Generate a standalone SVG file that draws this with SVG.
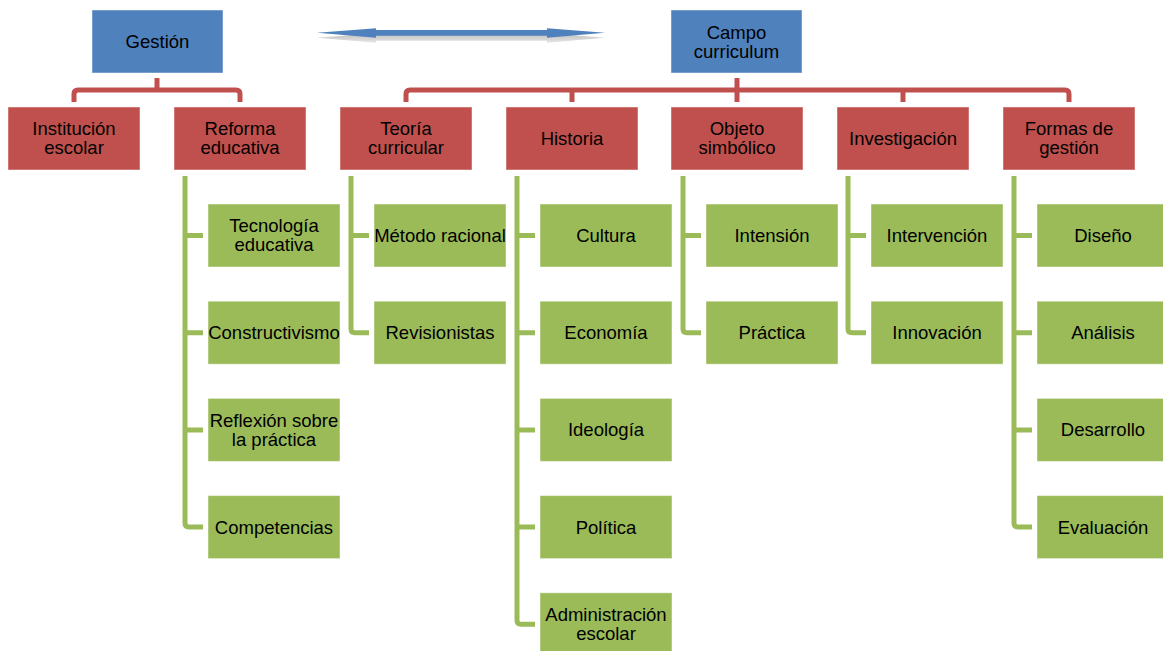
<svg xmlns="http://www.w3.org/2000/svg" width="1163" height="651" viewBox="0 0 1163 651">
<style>
text{font-family:"Liberation Sans",Arial,sans-serif;font-size:18.5px;fill:#000;text-anchor:middle}
.b{fill:#4F81BD;stroke:#fff;stroke-opacity:.45;stroke-width:1}
.r{fill:#C0504D;stroke:#fff;stroke-opacity:.45;stroke-width:1}
.g{fill:#9BBB59;stroke:#fff;stroke-opacity:.45;stroke-width:1}
.rl{fill:none;stroke:#C0504D;stroke-width:5}
.gl{fill:none;stroke:#9BBB59;stroke-width:5}
</style>
<defs>
<linearGradient id="sh" x1="0" y1="0" x2="0" y2="1">
<stop offset="0" stop-color="#bdbdbd"/>
<stop offset="1" stop-color="#e6e6e6"/>
</linearGradient>
</defs>
<rect width="1163" height="651" fill="#fff"/>
<g id="arrow">
<polygon transform="translate(0,5)" fill="url(#sh)" points="317,32.7 376,28.3 376,30 547,30 547,28.3 605,32.7 547,37.7 547,35.7 376,35.7 376,37.7"/>
<polygon fill="#4F81BD" points="317,32.7 376,28.3 376,30 547,30 547,28.3 605,32.7 547,37.7 547,35.7 376,35.7 376,37.7"/>
</g>
<g id="connectors">
<path class="rl" d="M157 78V90M74 102V94Q74 90 78 90H236Q240 90 240 94V102"/>
<path class="rl" d="M737 78V102M406 102V94Q406 90 410 90H1065Q1069 90 1069 94V102M572 90V102M903 90V102"/>
<path class="gl" d="M185 176V523Q185 527 189 527H203M185 235.5H203M185 332.7H203M185 429.9H203"/>
<path class="gl" d="M351 176V328.7Q351 332.7 355 332.7H369M351 235.5H369"/>
<path class="gl" d="M517 176V620.3Q517 624.3 521 624.3H535M517 235.5H535M517 332.7H535M517 429.9H535M517 527.1H535"/>
<path class="gl" d="M683 176V328.7Q683 332.7 687 332.7H701M683 235.5H701"/>
<path class="gl" d="M848 176V328.7Q848 332.7 852 332.7H866M848 235.5H866"/>
<path class="gl" d="M1014 176V523Q1014 527 1018 527H1032M1014 235.5H1032M1014 332.7H1032M1014 429.9H1032"/>
</g>
<g id="gestion"><rect class="b" x="92" y="10" width="131" height="63"/><text x="157.5" y="48">Gestión</text></g>
<g id="campo"><rect class="b" x="671" y="10" width="131" height="63"/><text x="736.5" y="38.5">Campo</text><text x="736.5" y="57.5">curriculum</text></g>
<g id="institucion"><rect class="r" x="8" y="107" width="132" height="63"/><text x="74" y="135">Institución</text><text x="74" y="154">escolar</text></g>
<g id="reforma"><rect class="r" x="174" y="107" width="132" height="63"/><text x="240" y="135">Reforma</text><text x="240" y="154">educativa</text></g>
<g id="teoria"><rect class="r" x="340" y="107" width="132" height="63"/><text x="406" y="135">Teoría</text><text x="406" y="154">curricular</text></g>
<g id="historia"><rect class="r" x="506" y="107" width="132" height="63"/><text x="572" y="145">Historia</text></g>
<g id="objeto"><rect class="r" x="671" y="107" width="132" height="63"/><text x="737" y="135">Objeto</text><text x="737" y="154">simbólico</text></g>
<g id="investigacion"><rect class="r" x="837" y="107" width="132" height="63"/><text x="903" y="145">Investigación</text></g>
<g id="formas"><rect class="r" x="1003" y="107" width="132" height="63"/><text x="1069" y="135">Formas de</text><text x="1069" y="154">gestión</text></g>
<g id="tecnologia"><rect class="g" x="208" y="204" width="132" height="63"/><text x="274" y="232">Tecnología</text><text x="274" y="251">educativa</text></g>
<g id="constructivismo"><rect class="g" x="208" y="301.2" width="132" height="63"/><text x="274" y="339">Constructivismo</text></g>
<g id="reflexion"><rect class="g" x="208" y="398.4" width="132" height="63"/><text x="274" y="426.5">Reflexión sobre</text><text x="274" y="445.5">la práctica</text></g>
<g id="competencias"><rect class="g" x="208" y="495.6" width="132" height="63"/><text x="274" y="533.5">Competencias</text></g>
<g id="metodo"><rect class="g" x="374" y="204" width="132" height="63"/><text x="440" y="242">Método racional</text></g>
<g id="revisionistas"><rect class="g" x="374" y="301.2" width="132" height="63"/><text x="440" y="339">Revisionistas</text></g>
<g id="cultura"><rect class="g" x="540" y="204" width="132" height="63"/><text x="606" y="242">Cultura</text></g>
<g id="economia"><rect class="g" x="540" y="301.2" width="132" height="63"/><text x="606" y="339">Economía</text></g>
<g id="ideologia"><rect class="g" x="540" y="398.4" width="132" height="63"/><text x="606" y="436">Ideología</text></g>
<g id="politica"><rect class="g" x="540" y="495.6" width="132" height="63"/><text x="606" y="533.5">Política</text></g>
<g id="administracion"><rect class="g" x="540" y="592.8" width="132" height="63"/><text x="606" y="621">Administración</text><text x="606" y="640">escolar</text></g>
<g id="intension"><rect class="g" x="706" y="204" width="132" height="63"/><text x="772" y="242">Intensión</text></g>
<g id="practica"><rect class="g" x="706" y="301.2" width="132" height="63"/><text x="772" y="339">Práctica</text></g>
<g id="intervencion"><rect class="g" x="871" y="204" width="132" height="63"/><text x="937" y="242">Intervención</text></g>
<g id="innovacion"><rect class="g" x="871" y="301.2" width="132" height="63"/><text x="937" y="339">Innovación</text></g>
<g id="diseno"><rect class="g" x="1037" y="204" width="132" height="63"/><text x="1103" y="242">Diseño</text></g>
<g id="analisis"><rect class="g" x="1037" y="301.2" width="132" height="63"/><text x="1103" y="339">Análisis</text></g>
<g id="desarrollo"><rect class="g" x="1037" y="398.4" width="132" height="63"/><text x="1103" y="436">Desarrollo</text></g>
<g id="evaluacion"><rect class="g" x="1037" y="495.6" width="132" height="63"/><text x="1103" y="533.5">Evaluación</text></g>
</svg>
